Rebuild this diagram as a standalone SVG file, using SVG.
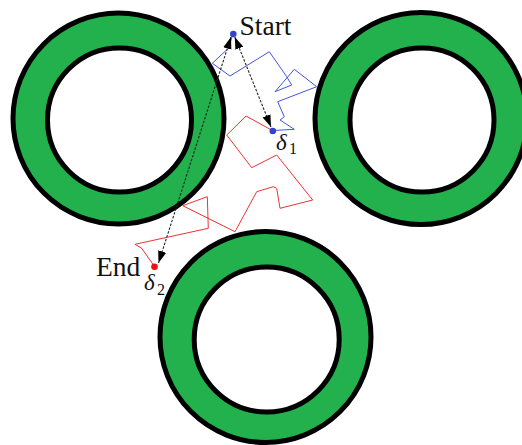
<svg xmlns="http://www.w3.org/2000/svg" width="522" height="445" viewBox="0 0 522 445">
<defs>
<style>
.ring{fill:#22B14C;stroke:#000;stroke-width:5}
.hole{fill:#fff;stroke:#000;stroke-width:5}
.walk-b{fill:none;stroke:#4455dd;stroke-width:1;stroke-linejoin:miter}
.walk-r{fill:none;stroke:#ee3333;stroke-width:1;stroke-linejoin:miter}
.dash{fill:none;stroke:#222;stroke-width:1.1;stroke-dasharray:2.5 1.5}
.lbl{font-family:"Liberation Serif","Times New Roman",serif;fill:#111}
.math{font-family:"Liberation Serif","Times New Roman",serif;font-style:italic;fill:#111}
</style>
<marker id="ah" viewBox="0 0 10 7" refX="10" refY="3.5" markerWidth="12" markerHeight="9" markerUnits="userSpaceOnUse" orient="auto-start-reverse">
<path d="M0,0 L10,3.5 L0,7 z" fill="#000"/>
</marker>
</defs>
<rect width="522" height="445" fill="#fff"/>
<g id="ring-left">
<circle class="ring" cx="118.5" cy="118.5" r="105.5"/>
<circle class="hole" cx="119.5" cy="120" r="72"/>
</g>
<g id="ring-right">
<circle class="ring" cx="421" cy="118.5" r="106"/>
<circle class="hole" cx="422" cy="120" r="72"/>
</g>
<g id="ring-bottom">
<circle class="ring" cx="265.5" cy="337" r="105.5"/>
<circle class="hole" cx="266.7" cy="339.5" r="72.5"/>
</g>
<g id="walk-blue">
<polyline class="walk-b" points="233,34 228.3,48.3 212.3,63.3 230,76 269.3,51.7 286.7,76.7 291.7,85 275,91.7 294.3,69.3 316.7,86.7 277.7,101.7 284.3,116.7 280,120 294.3,129.3 273.3,130.5"/>
</g>
<g id="walk-red">
<polyline class="walk-r" points="273.3,131 246,116 226.7,135 251.7,167.7 276.7,155 312.7,200 280,208.3 276.7,188.3 273.3,186.7 256.7,191.7 235,231.7 182.7,205.7 207.3,196.7 208.3,228.3 135,244.3 141.7,248.3 154.5,266.5"/>
</g>
<g id="connectors">
<line class="dash" x1="234.8" y1="37" x2="271" y2="127" marker-start="url(#ah)" marker-end="url(#ah)"/>
<line class="dash" x1="231" y1="37" x2="158.5" y2="263" marker-start="url(#ah)" marker-end="url(#ah)"/>
</g>
<g id="start">
<circle cx="233.3" cy="34" r="3.3" fill="#3344cc"/>
<text class="lbl" x="239.5" y="35" font-size="27.5">Start</text>
</g>
<g id="delta1">
<circle cx="272.8" cy="131" r="3.3" fill="#3344cc"/>
<text class="math" x="276" y="150" font-size="23">δ</text>
<text class="lbl" x="289" y="154" font-size="16">1</text>
</g>
<g id="end">
<circle cx="154.5" cy="266.7" r="3.3" fill="#ee1111"/>
<text class="lbl" x="96" y="276" font-size="27.5">End</text>
<text class="math" x="144" y="290" font-size="23">δ</text>
<text class="lbl" x="157" y="295" font-size="16">2</text>
</g>
</svg>
